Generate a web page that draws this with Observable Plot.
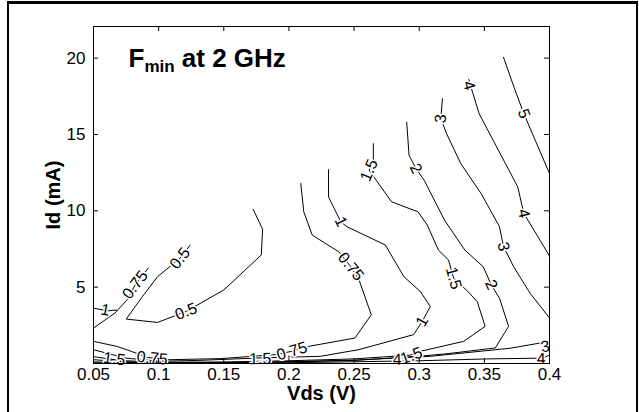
<!DOCTYPE html>
<html>
<head>
<meta charset="utf-8">
<script src="https://cdn.jsdelivr.net/npm/d3@7"></script>
<script src="https://cdn.jsdelivr.net/npm/@observablehq/plot@0.6"></script>
<style>
  html, body { margin: 0; padding: 0; background: #fff; }
  #wrap { position: relative; width: 639px; height: 412px; overflow: hidden; font-family: "Liberation Sans", Arial, sans-serif; }
  .bd { position: absolute; background: #000; }
</style>
</head>
<body>
<div id="wrap">
  <div class="bd" style="left:7px;top:1px;width:631px;height:3px"></div>
  <div class="bd" style="left:7px;top:1px;width:2px;height:411px"></div>
  <div class="bd" style="left:636px;top:1px;width:2px;height:411px"></div>
</div>
<script>
// ---- Data (Vds in V, Id in mA) ----
const xTicks = [0.05, 0.1, 0.15, 0.2, 0.25, 0.3, 0.35, 0.4];
const xTickLabels = ["0.05", "0.1", "0.15", "0.2", "0.25", "0.3", "0.35", "0.4"];
const yTicks = [5, 10, 15, 20];
const xLabel = "Vds (V)";
const yLabel = "Id (mA)";
const titleMain = "F", titleSub = "min", titleRest = " at 2 GHz";

const c05 = [[0.1242,7.76],[0.1164,6.89],[0.0992,5.69],[0.0876,4.39],[0.0751,2.91],[0.0992,2.69],[0.1211,3.41],[0.1501,4.82],[0.1788,7.11],[0.1798,8.79],[0.1726,10.09]];
const c075L = [[0.092,6.24],[0.082,5.15],[0.0758,4.17],[0.0664,3.30],[0.05,2.32]];
const c1L = [[0.05,3.62],[0.061,3.45],[0.068,3.5]];
const c075 = [[0.2091,11.79],[0.2114,9.93],[0.2179,8.41],[0.2382,7.32],[0.2475,6.34],[0.2538,5.48],[0.2632,3.19],[0.2507,1.67],[0.215,1.12],[0.2023,0.80],[0.1895,0.58],[0.1476,0.32],[0.1092,0.25],[0.0916,0.39],[0.0789,0.80],[0.0679,1.12],[0.05,1.45]];
const c1 = [[0.2304,12.70],[0.2304,10.91],[0.2398,9.28],[0.2445,8.96],[0.274,7.76],[0.2882,5.69],[0.3009,4.71],[0.3085,3.73],[0.3023,2.75],[0.2957,1.89],[0.2538,0.91],[0.2242,0.47],[0.1788,0.37],[0.13,0.2],[0.1,0.15],[0.075,0.35],[0.05,0.9]];
const c15 = [[0.2648,14.40],[0.2648,13.31],[0.2616,12.66],[0.2679,11.89],[0.2788,10.59],[0.2991,9.93],[0.3062,9.07],[0.3147,7.43],[0.3225,6.78],[0.3264,5.59],[0.3377,4.69],[0.3446,4.04],[0.3506,2.43],[0.3341,1.45],[0.3009,0.80],[0.2932,0.55],[0.25,0.3],[0.2,0.18],[0.15,0.1],[0.1,0.08],[0.07,0.2],[0.05,0.45]];
const c2 = [[0.2904,15.81],[0.2922,13.63],[0.2975,12.77],[0.3038,12.0],[0.3194,9.39],[0.335,7.43],[0.3491,6.34],[0.3553,5.15],[0.3616,4.28],[0.3686,2.43],[0.3584,1.02],[0.3225,0.65],[0.3034,0.5],[0.25,0.2],[0.2,0.1],[0.12,0.05],[0.07,0.12],[0.05,0.25]];
const c3 = [[0.3178,17.34],[0.3166,16.03],[0.321,15.05],[0.3319,13.09],[0.3475,11.13],[0.3616,8.96],[0.3647,7.65],[0.3725,6.34],[0.385,4.61],[0.4,2.98]];
const c3L = [[0.4,1.45],[0.37,1.0],[0.3085,0.47],[0.25,0.22],[0.18,0.08],[0.1,0.04],[0.05,0.1]];
const c4 = [[0.338,18.6],[0.3413,17.66],[0.346,16.36],[0.3568,14.61],[0.3756,11.57],[0.3803,9.83],[0.4,7.04]];
const c4L = [[0.4,0.55],[0.395,0.35],[0.352,0.3],[0.3,0.18],[0.2,0.05],[0.1,0.03],[0.05,0.05]];
const c5 = [[0.3647,20.05],[0.3732,17.99],[0.3803,16.36],[0.4,12.44]];

const contourLines = {c05, c075L, c1L, c075, c1, c15, c2, c3, c3L, c4, c4L, c5};

// contour labels: text, Vds, Id, contour they sit on
const labelText = ["0.5","0.5","0.75","1","0.75","0.75","0.75","1","1","1.5","1.5","1.5","1.5","1.5","2","2","3","3","3","4","4","4","4","5"];
const labelVds  = [0.1164,0.1211,0.082,0.059,0.2475,0.2023,0.095,0.2398,0.3023,0.2616,0.3264,0.294,0.066,0.178,0.2975,0.3553,0.3166,0.3647,0.3967,0.3381,0.3803,0.3935,0.283,0.3803];
const labelId   = [6.89,3.41,5.15,3.5,6.34,0.80,0.35,9.28,2.75,12.66,5.59,0.5,0.3,0.3,12.77,5.15,16.03,7.65,1.10,18.2,9.83,0.3,0.25,16.36];
const labelLine = ["c05","c05","c075L","c1L","c075","c075","c075","c1","c1","c15","c15","c15","c15","c15","c2","c2","c3","c3","c3L","c4","c4","c4L","c4L","c5"];

// ---- Build ----
const lineRows = [];
for (const [key, pts] of Object.entries(contourLines)) {
  pts.forEach(([v, id]) => lineRows.push({key, v, id}));
}

const font = "'Liberation Sans', Arial, Helvetica, sans-serif";
const W = 639, H = 412;
const mL = 93, mR = 90, mT = 26, mB = 49;
const plotW = W - mL - mR, plotH = H - mT - mB;
const tick = 5;

const baseOpts = {
  width: W, height: H,
  marginLeft: mL, marginRight: mR, marginTop: mT, marginBottom: mB,
  x: {domain: [0.05, 0.4]},
  y: {domain: [0, 22.07]},
  style: {fontFamily: font, fontSize: "17px", background: "transparent", color: "#000"}
};

const base = Plot.plot({...baseOpts, marks: [Plot.frame()]});
const sx = base.scale("x"), sy = base.scale("y");

function angleFor(key, v, id) {
  const pts = contourLines[key];
  const px = sx.apply(v), py = sy.apply(id);
  let best = Infinity, ang = 0;
  for (let i = 0; i < pts.length - 1; i++) {
    const ax = sx.apply(pts[i][0]), ay = sy.apply(pts[i][1]);
    const bx = sx.apply(pts[i+1][0]), by = sy.apply(pts[i+1][1]);
    const dx = bx - ax, dy = by - ay;
    const L2 = dx*dx + dy*dy || 1;
    const t = Math.max(0, Math.min(1, ((px-ax)*dx + (py-ay)*dy) / L2));
    const d = Math.hypot(ax + t*dx - px, ay + t*dy - py);
    if (d < best) { best = d; ang = Math.atan2(dy, dx) * 180 / Math.PI; }
  }
  if (ang > 90) ang -= 180;
  if (ang < -90) ang += 180;
  return ang;
}

const labels = labelText.map((t, i) => ({
  text: t, v: labelVds[i], id: labelId[i],
  angle: angleFor(labelLine[i], labelVds[i], labelId[i])
}));

const chart = Plot.plot({
  ...baseOpts,
  marks: [
    Plot.line(lineRows, {x: "v", y: "id", z: "key", stroke: "#000", strokeWidth: 1, curve: "linear"}),
    Plot.text(labels, {x: "v", y: "id", text: "text", rotate: "angle", fontSize: 16, fill: "#000",
      stroke: "#fff", strokeWidth: 3, textAnchor: "middle", lineAnchor: "middle"}),
    // inward tick marks
    Plot.ruleX(xTicks, {x: d => d, insetTop: plotH - tick, stroke: "#000"}),
    Plot.ruleX(xTicks, {x: d => d, insetBottom: plotH - tick, stroke: "#000"}),
    Plot.ruleY(yTicks, {y: d => d, insetRight: plotW - tick, stroke: "#000"}),
    Plot.ruleY(yTicks, {y: d => d, insetLeft: plotW - tick, stroke: "#000"}),
    Plot.axisX(xTicks, {anchor: "bottom", tickSize: 0, tickPadding: 4, label: null,
      tickFormat: (d) => xTickLabels[xTicks.indexOf(d)], fontSize: 17}),
    Plot.axisY(yTicks, {anchor: "left", tickSize: 0, tickPadding: 8, label: null, fontSize: 17}),
    Plot.frame({stroke: "#000"}),
    Plot.text([xLabel], {frameAnchor: "bottom", dy: 30, textAnchor: "middle", lineAnchor: "middle",
      fontWeight: "bold", fontSize: 20, text: d => d}),
    Plot.text([yLabel], {frameAnchor: "left", dx: -40, rotate: -90, textAnchor: "middle", lineAnchor: "middle",
      fontWeight: "bold", fontSize: 20, text: d => d}),
    Plot.text([titleMain + titleSub + titleRest], {frameAnchor: "top-left", dx: 35, dy: 32,
      textAnchor: "start", lineAnchor: "middle", fontWeight: "bold", fontSize: 26, text: d => d})
  ]
});

chart.style.position = "absolute";
chart.style.left = "0px";
chart.style.top = "0px";
document.getElementById("wrap").appendChild(chart);

// subscript for the title
for (const t of chart.querySelectorAll("text")) {
  if (t.textContent === titleMain + titleSub + titleRest) {
    t.textContent = "";
    const ns = "http://www.w3.org/2000/svg";
    const a = document.createElementNS(ns, "tspan"); a.textContent = titleMain;
    const b = document.createElementNS(ns, "tspan"); b.textContent = titleSub;
    b.setAttribute("font-size", "17"); b.setAttribute("dy", "5");
    const c = document.createElementNS(ns, "tspan"); c.textContent = titleRest;
    c.setAttribute("dy", "-5");
    t.appendChild(a); t.appendChild(b); t.appendChild(c);
  }
}
</script>
</body>
</html>
